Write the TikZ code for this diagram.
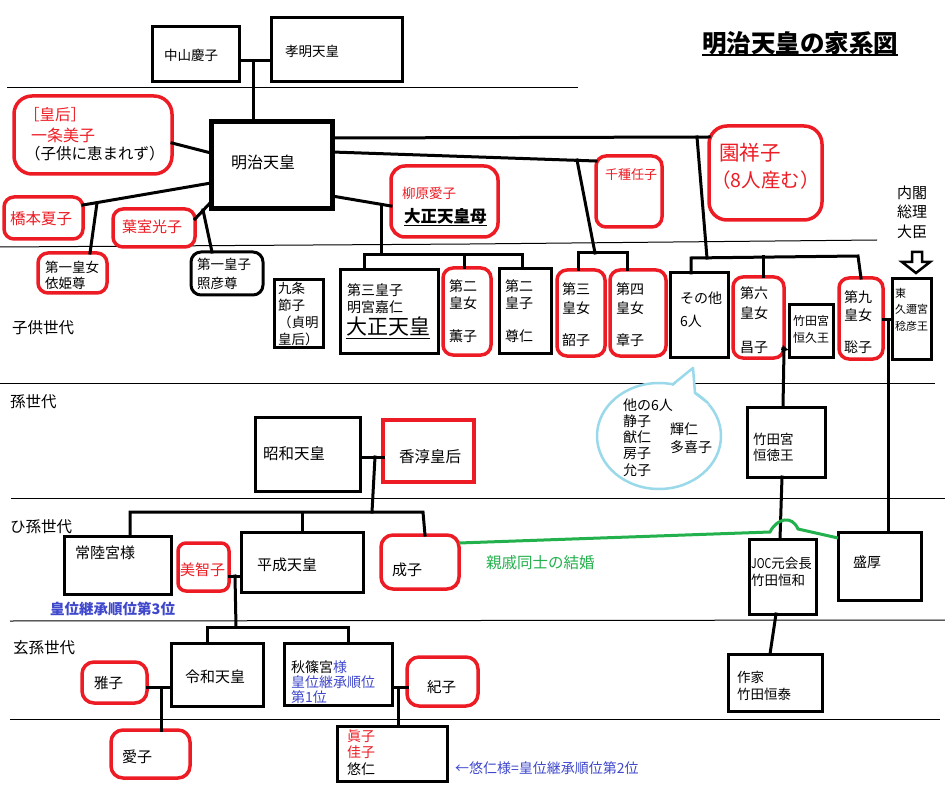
\documentclass[tikz,border=0pt]{standalone}
\usepackage{fontspec}
\setmainfont{Noto Sans CJK JP}
\usetikzlibrary{shapes.geometric,arrows.meta}
\definecolor{pred}{RGB}{237,28,36}
\definecolor{pblue}{RGB}{63,72,204}
\definecolor{pgreen}{RGB}{34,177,76}
\definecolor{pcyan}{RGB}{153,217,234}
\newcommand\jfs[2]{\fontsize{#1}{#2}\selectfont}
\tikzset{
  bx/.style n args={4}{at={({(#1+#3)/2},{(#2+#4)/2})}, minimum width={(#3-#1)*1pt}, minimum height={(#4-#2)*1pt}, inner sep=0pt, outer sep=0pt, rectangle},
  bk/.style={draw=black, line width=3pt},
  rd/.style={draw=pred, line width=3.5pt, rounded corners=#1},
  rd/.default=10pt,
  tx/.style 2 args={inner sep=0pt, anchor=west, align=left, font=\jfs{#1}{#2}},
  ln/.style={line width=3pt, line cap=rect},
  sepl/.style={line width=1pt},
}
\begin{document}
\begin{tikzpicture}[x=1pt,y=-1pt]
\fill[white] (0,0) rectangle (945,786);
\useasboundingbox (0,0) rectangle (945,786);
% separator lines
\draw[sepl] (7,88) -- (578,88);
\draw[sepl] (0,247) -- (470,244) -- (877,240);
\draw[sepl] (0,383) -- (935,383);
\draw[sepl] (11,498) -- (945,498);
\draw[sepl] (10,621) -- (945,620);
\draw[sepl] (10,719) -- (940,719);
% generation labels
\node[tx={15.5}{18}] (g1) at (12,328) {子供世代};
\node[tx={15.5}{18}] (g2) at (10,402) {孫世代};
\node[tx={15.5}{18}] (g3) at (10,527) {ひ孫世代};
\node[tx={15.5}{18}] (g4) at (13,648) {玄孫世代};
% title
\node[inner sep=0pt, anchor=west, font=\jfs{24.5}{26}\bfseries] (title) at (702,43) {明治天皇の家系図};
\draw[line width=2pt] (title.south west) -- (title.south east);
% boxes
\node[bk, bx={152}{27}{239}{82}] (nakayama) {};
\node[bk, bx={271}{18}{402}{82}] (koumei) {};
\node[bk, line width=5pt, bx={211}{122}{332}{209}] (meiji) {};
\node[rd=18pt, bx={14}{96}{172}{174}] (haruko) {};
\node[rd, bx={4}{197}{83}{239}] (natsuko) {};
\node[rd, bx={113}{209}{195}{247}] (mitsuko) {};
\node[rd, bx={38}{253}{107}{293}] (yoshiko) {};
\node[bk, rounded corners=10pt, bx={191}{252}{263}{295}] (teruhiko) {};
\node[bk, bx={274}{280}{323}{347}] (kujo) {};
\node[bk, bx={340}{270}{438}{353}] (taisho) {};
\node[rd=14pt, bx={391}{166}{498}{237}] (naruko) {};
\node[rd, bx={443}{268}{491}{355}] (shigeko) {};
\node[bk, bx={499}{269}{551}{353}] (takahito) {};
\node[rd, bx={596}{156}{662}{227}] (kotoko) {};
\node[rd=18pt, bx={709}{126}{822}{220}] (sachiko) {};
\node[rd, bx={557}{270}{605}{356}] (akiko) {};
\node[rd, bx={610}{270}{666}{356}] (fumiko) {};
\node[bk, bx={670}{273}{728}{357}] (sonota) {};
\node[rd, bx={733}{277}{784}{358}] (masako6) {};
\node[bk, bx={789}{305}{833}{357}] (hisa) {};
\node[rd, bx={839}{278}{883}{359}] (toshiko) {};
\node[bk, bx={892}{279}{931}{359}] (higashi) {};
\node[bk, bx={255}{417}{360}{491}] (showa) {};
\node[draw=pred, line width=3.5pt, bx={383}{420}{474}{482}] (kojun) {};
\node[bk, bx={747}{407}{825}{477}] (tsunenori) {};
\node[bk, bx={64}{536}{171}{594}] (hitachi) {};
\node[rd=8pt, bx={178}{543}{229}{591}] (michiko) {};
\node[bk, bx={241}{532}{363}{592}] (heisei) {};
\node[rd=12pt, bx={381}{535}{459}{589}] (shigeko2) {};
\node[bk, bx={749}{539}{816}{614}] (tsunekazu) {};
\node[bk, bx={838}{532}{921}{600}] (morihiro) {};
\node[bk, bx={728}{654}{822}{711}] (tsuneyasu) {};
\node[rd=12pt, bx={82}{662}{147}{703}] (masako) {};
\node[bk, bx={171}{643}{263}{706}] (reiwa) {};
\node[rd=12pt, bx={111}{730}{190}{778}] (aiko) {};
\node[bk, bx={284}{643}{392}{705}] (akishino) {};
\node[rd=12pt, bx={407}{657}{478}{706}] (kiko) {};
\node[bk, bx={337}{726}{447}{781}] (mako) {};
% connectors
\coordinate (j1) at (253,61);
\draw[ln] (nakayama.east |- j1) -- (koumei.west |- j1);
\draw[ln] (j1) -- (meiji.north -| j1);
\draw[ln] (haruko.east |- 0,143) -- (meiji.west |- 0,153);
\draw[ln] (meiji.west |- 0,183) -- (natsuko.east |- 0,205);
\coordinate (j2) at (97,203);
\draw[ln] (j2) -- (yoshiko.north -| 90,0);
\draw[ln] (meiji.west |- 0,202) -- (mitsuko.east |- 0,219);
\coordinate (j3) at (203,210);
\draw[ln] (j3) -- (teruhiko.north -| 212,0);
\draw[ln] (meiji.east |- 0,196) -- (naruko.west |- 0,206);
\coordinate (j4) at (381,205);
\draw[ln] (j4) -- (381,255);
\draw[ln] (taisho.north -| 364,0) -- (364,255) -- (522,255) -- (takahito.north -| 522,0);
\draw[ln] (464,255) -- (shigeko.north -| 464,0);
\draw[ln] (meiji.east |- 0,152) -- (kotoko.west |- 0,161);
\coordinate (j5) at (577,160);
\draw[ln] (j5) -- (595,253);
\draw[ln] (akiko.north -| 578,0) -- (578,253) -- (627,253) -- (fumiko.north -| 627,0);
\draw[ln] (meiji.east |- 0,138) -- (sachiko.west |- 0,137);
\coordinate (j6) at (697,137);
\draw[ln] (j6) -- (707,258);
\draw[ln] (sonota.north -| 691,0) -- (691,258) -- (858,256) -- (toshiko.north -| 861,0);
\draw[ln] (763,257) -- (masako6.north -| 763,0);
\draw[ln, -{Latex[length=7pt,width=8pt]}] (masako6.east |- 0,349) -- (hisa.west |- 0,350);
\coordinate (j7) at (784,350);
\draw[ln] (j7) -- (tsunenori.north -| 783,0);
\draw[ln] (toshiko.east |- 0,320) -- (higashi.west |- 0,320);
\coordinate (j8) at (888,320);
\draw[ln] (j8) -- (morihiro.north -| 888,0);
\draw[ln] (showa.east |- 0,457) -- (kojun.west |- 0,457);
\coordinate (j9) at (375,457);
\draw[ln] (j9) -- (372,512);
\draw[ln] (hitachi.north -| 130,0) -- (130,512) -- (423,512) -- (shigeko2.north -| 425,0);
\draw[ln] (302,512) -- (heisei.north -| 302,0);
\draw[ln] (michiko.east |- 0,576) -- (heisei.west |- 0,576);
\coordinate (j10) at (235,576);
\draw[ln] (j10) -- (236,627);
\draw[ln] (reiwa.north -| 207,0) -- (207,627) -- (348,627) -- (akishino.north -| 348,0);
\draw[ln] (tsunenori.south -| 782,0) -- (tsunekazu.north -| 780,0);
\draw[ln] (tsunekazu.south -| 776,0) -- (tsuneyasu.north -| 770,0);
\draw[ln] (masako.east |- 0,687) -- (reiwa.west |- 0,687);
\coordinate (j11) at (161,687);
\draw[ln] (j11) -- (aiko.north -| 161,0);
\draw[ln] (akishino.east |- 0,687) -- (kiko.west |- 0,687);
\coordinate (j12) at (398,687);
\draw[ln] (j12) -- (mako.north -| 398,0);
% green marriage line
\draw[pgreen, line width=3pt] (shigeko2.east |- 0,543) -- (770,532) .. controls (777,518) and (792,515) .. (798,529) -- (morihiro.west |- 0,538);
% hollow arrow under PM label
\draw[line width=2.5pt, fill=white, line join=miter] (912,252) -- (922,252) -- (922,262) -- (930,262) -- (916,273) -- (902,262) -- (912,262) -- cycle;
% speech bubble
\node[ellipse, draw=pcyan, line width=2.5pt, fill=white, minimum width=124pt, minimum height=106pt, inner sep=0pt] (bubble) at (659,436) {};
\fill[white] (671,388) -- (693,368) -- (695,393) -- (709,405) -- cycle;
\draw[pcyan, line width=2.5pt, line join=round] (672,385) -- (693,368) -- (695,393) -- (708,403);
% texts
\node[tx={13.5}{16}] (tnakayama) at (164,55) {中山慶子};
\node[tx={13.5}{16}] (tkoumei) at (285,51) {孝明天皇};
\node[tx={16}{18}] (tmeiji) at (231,162) {明治天皇};
\node[tx={15.5}{18}, text=pred] (th1) at (24,115) {［皇后］};
\node[tx={16}{18}, text=pred] (th2) at (31,135) {一条美子};
\node[tx={15.5}{18}] (th3) at (25,154) {（子供に恵まれず）};
\node[tx={15.5}{18}, text=pred] (tnatsuko) at (10,219) {橋本夏子};
\node[tx={15}{18}, text=pred] (tmitsuko) at (122,227) {葉室光子};
\node[tx={13.5}{16}] (tyoshiko) at (45,275) {第一皇女\\依姫尊};
\node[tx={13.5}{19}] (tteruhiko) at (197,273.5) {第一皇子\\照彦尊};
\node[tx={13.5}{17.3}] (tkujo) at (278,314) {九条\\節子\\（貞明\\皇后）};
\node[tx={14}{17}] (ttaisho1) at (347,298.5) {第三皇子\\明宮嘉仁};
\node[tx={21}{23}] (ttaisho2) at (346,328) {\underline{大正天皇}};
\node[tx={13.5}{16}, text=pred] (tnaruko1) at (402,193) {柳原愛子};
\node[tx={16.5}{18}, font=\jfs{16.5}{18}\bfseries] (tnaruko2) at (404,217) {\underline{大正天皇母}};
\node[tx={14}{17}] (tshigeko) at (449,311) {第二\\皇女\\[16pt]薫子};
\node[tx={14}{17}] (ttakahito) at (505,311) {第二\\皇子\\[16pt]尊仁};
\node[tx={13}{15}, text=pred] (tkotoko) at (605,175) {千種任子};
\node[tx={20.5}{23}, text=pred] (tsachiko1) at (719,153) {園祥子};
\node[tx={19.5}{23}, text=pred] (tsachiko2) at (711,180) {（8人産む）};
\node[tx={15}{19.5}] (tpm) at (897,212) {内閣\\総理\\大臣};
\node[tx={14}{19}] (takiko) at (562,314.5) {第三\\皇女\\[13pt]韶子};
\node[tx={14}{19}] (tfumiko) at (616,314.5) {第四\\皇女\\[13pt]章子};
\node[tx={14}{23}] (tsonota) at (680,309.5) {その他\\6人};
\node[tx={14}{20}] (tmasako6) at (740,320) {第六\\皇女\\[14pt]昌子};
\node[tx={12}{17}] (thisa) at (793,329.5) {竹田宮\\恒久王};
\node[tx={14}{18}] (ttoshiko) at (844,322) {第九\\皇女\\[14pt]聡子};
\node[tx={11}{16.5}] (thigashi) at (895,309.5) {東\\久邇宮\\稔彦王};
\node[tx={14}{16.2}] (tb1) at (623,437.5) {他の6人\\静子\\猷仁\\房子\\允子};
\node[tx={14}{18}] (tb2) at (670,438) {輝仁\\多喜子};
\node[tx={15.5}{18}] (tshowa) at (263,454) {昭和天皇};
\node[tx={15.5}{18}] (tkojun) at (399,457) {香淳皇后};
\node[tx={13.5}{16}] (ttsunenori) at (753,447) {竹田宮\\恒徳王};
\node[tx={15}{18}] (thitachi) at (75,553) {常陸宮様};
\node[tx={14.5}{17}, font=\jfs{14.5}{17}\bfseries, text=pblue] (trank3) at (50,609) {皇位継承順位第3位};
\node[tx={15}{18}, text=pred] (tmichiko) at (180,570) {美智子};
\node[tx={15}{18}] (theisei) at (257,565) {平成天皇};
\node[tx={15}{18}] (tshigeko2) at (392,570) {成子};
\node[tx={15.5}{18}, text=pgreen] (tgreen) at (486,563) {親戚同士の結婚};
\node[tx={13.5}{17}] (ttsunekazu) at (751,571.5) {\scalebox{0.78}[1]{JOC}元会長\\竹田恒和};
\node[tx={14}{17}] (tmorihiro) at (853,562) {盛厚};
\node[tx={13.5}{17}] (ttsuneyasu) at (737,685.5) {作家\\竹田恒泰};
\node[tx={14.5}{17}] (tmasako) at (94,683) {雅子};
\node[tx={15}{18}] (treiwa) at (185,677) {令和天皇};
\node[tx={15}{18}] (taiko) at (122,757) {愛子};
\node[tx={14}{15}] (takishino) at (291,682) {秋篠宮\textcolor{pblue}{様}\\\textcolor{pblue}{皇位継承順位}\\\textcolor{pblue}{第1位}};
\node[tx={14.5}{17}] (tkiko) at (427,687) {紀子};
\node[tx={14}{16.5}] (tmako) at (347,752.5) {\textcolor{pred}{眞子}\\\textcolor{pred}{佳子}\\悠仁};
\node[tx={14}{17}, text=pblue] (tnote) at (455,768) {←悠仁様=皇位継承順位第2位};
\end{tikzpicture}
\end{document}
